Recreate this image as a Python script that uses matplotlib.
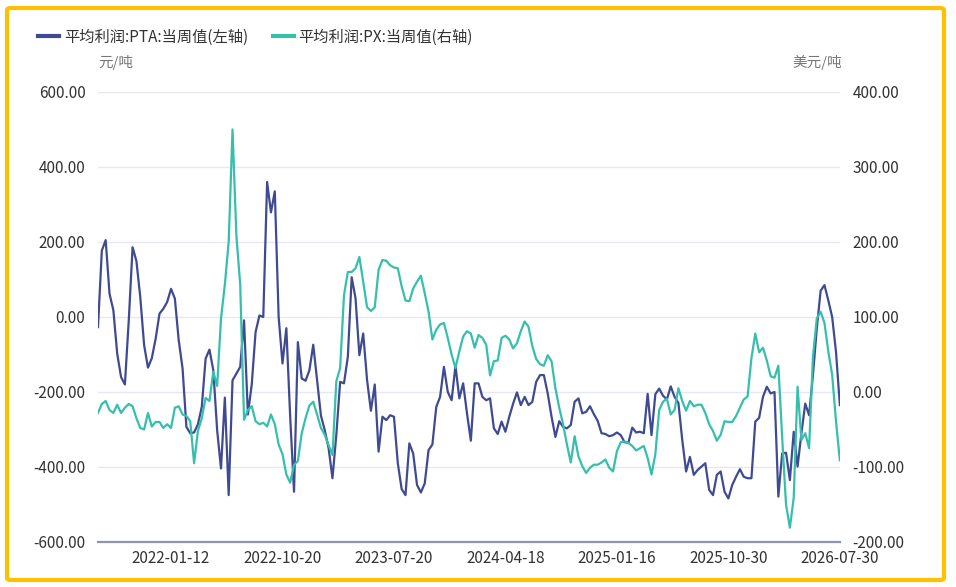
import matplotlib
matplotlib.use("Agg")
import matplotlib.pyplot as plt
from matplotlib.patches import FancyBboxPatch
from matplotlib.ticker import FormatStrFormatter, FixedLocator

plt.rcParams["font.family"] = ["Noto Sans CJK SC", "DejaVu Sans"]

# weekly values
pta_profit = [
    -27, 177, 205, 62, 18, -98, -160, -180, -10, 186,
    149, 53, -75, -135, -110, -58, 9, 22, 40, 75,
    49, -62, -137, -293, -310, -308, -286, -240, -111, -87,
    -142, -302, -404, -215, -475, -169, -151, -133, -9, -260,
    -180, -40, 4, 0, 360, 279, 335, 0, -124, -30,
    -266, -466, -67, -164, -170, -142, -74, -168, -263, -302,
    -350, -430, -315, -173, -177, -106, 106, 50, -102, -44,
    -168, -250, -180, -359, -266, -275, -262, -266, -390, -459,
    -475, -337, -364, -448, -468, -444, -355, -340, -240, -213,
    -133, -200, -222, -130, -217, -177, -257, -330, -177, -177,
    -213, -222, -217, -297, -312, -279, -306, -266, -231, -201,
    -235, -213, -235, -226, -173, -155, -155, -204, -266, -320,
    -278, -293, -297, -288, -226, -217, -257, -253, -238, -259,
    -277, -310, -312, -318, -315, -308, -315, -334, -335, -295,
    -308, -306, -310, -205, -315, -206, -191, -210, -220, -185,
    -213, -229, -328, -412, -373, -421, -408, -399, -390, -461,
    -475, -421, -412, -466, -484, -448, -426, -406, -426, -430,
    -430, -279, -269, -213, -186, -204, -200, -479, -364, -362,
    -435, -306, -399, -310, -231, -262, -155, -31, 70, 85,
    44, 0, -93, -235,
]

px_profit = [
    -28, -16, -12, -24, -28, -17, -28, -21, -16, -19,
    -35, -48, -50, -28, -46, -40, -40, -48, -43, -48,
    -21, -19, -30, -32, -39, -95, -52, -35, -8, -12,
    27, 8, 98, 143, 200, 350, 209, 143, -37, -24,
    -19, -39, -43, -41, -46, -30, -43, -70, -83, -110,
    -121, -97, -92, -55, -35, -18, -13, -30, -48, -57,
    -71, -84, 14, 32, 129, 160, 160, 165, 180, 147,
    113, 108, 113, 163, 176, 175, 169, 166, 165, 141,
    122, 121, 138, 147, 155, 132, 107, 70, 83, 90,
    92, 72, 50, 32, 54, 74, 81, 78, 59, 76,
    72, 63, 22, 41, 42, 72, 75, 70, 58, 65,
    81, 94, 87, 61, 44, 37, 35, 49, 41, 5,
    -21, -43, -70, -94, -59, -86, -99, -108, -101, -97,
    -97, -94, -90, -101, -106, -79, -67, -66, -68, -72,
    -78, -75, -72, -88, -110, -83, -24, -13, -9, -30,
    -24, 5, -12, -25, -12, -19, -17, -17, -28, -43,
    -52, -65, -57, -39, -40, -40, -32, -21, -10, -6,
    45, 78, 53, 59, 42, 21, 19, 35, -61, -150,
    -181, -141, 7, -64, -55, -75, 47, 98, 107, 92,
    54, 23, -39, -91,
]

tick_labels = ["2022-01-12", "2022-10-20", "2023-07-20", "2024-04-18",
               "2025-01-16", "2025-10-30", "2026-07-30"]
first_tick = 19
tick_step = 29

PTA_COLOR = "#3F4A93"
PX_COLOR = "#36BFAD"
GRID = "#E6E7F2"
TEXT = "#333333"

fig = plt.figure(figsize=(9.56, 5.87), dpi=100)
ax = fig.add_axes([0.1025, 0.0767, 0.776, 0.7666])
ax2 = ax.twinx()

x = list(range(len(pta_profit)))
l1, = ax.plot(x, pta_profit, color=PTA_COLOR, lw=1.6, label="平均利润:PTA:当周值(左轴)")
l2, = ax2.plot(x, px_profit, color=PX_COLOR, lw=1.6, label="平均利润:PX:当周值(右轴)")

ax.set_xlim(0, len(x) - 1)
ax.set_ylim(-600, 600)
ax2.set_ylim(-200, 400)
ax.yaxis.set_major_locator(FixedLocator(range(-600, 601, 200)))
ax2.yaxis.set_major_locator(FixedLocator(range(-200, 401, 100)))
ax.yaxis.set_major_formatter(FormatStrFormatter("%.2f"))
ax2.yaxis.set_major_formatter(FormatStrFormatter("%.2f"))

ticks = [first_tick + tick_step * k for k in range(len(tick_labels))]
ax.set_xticks(ticks)
ax.set_xticklabels(tick_labels)

ax.grid(axis="y", color=GRID, lw=1)
ax.set_axisbelow(True)
for a in (ax, ax2):
    for s in ("top", "left", "right"):
        a.spines[s].set_visible(False)
    a.spines["bottom"].set_visible(False)
ax.spines["bottom"].set_visible(True)
ax.spines["bottom"].set_color("#8E94AD")
ax.spines["bottom"].set_linewidth(1.6)

ax.tick_params(axis="x", length=0, pad=6, labelsize=11, labelcolor=TEXT)
ax.tick_params(axis="y", length=0, pad=9, labelsize=11, labelcolor=TEXT)
ax2.tick_params(axis="y", length=0, pad=9, labelsize=11, labelcolor=TEXT)

fig.text(98 / 956, 1 - 63 / 587, "元/吨", fontsize=10.5, color="#777777",
         ha="left", va="center")
fig.text(842 / 956, 1 - 62 / 587, "美元/吨", fontsize=10.5, color="#777777",
         ha="right", va="center")

fig.legend(handles=[l1, l2], loc="center left",
           bbox_to_anchor=(38 / 956, 1 - 37 / 587), ncol=2, frameon=False,
           fontsize=11, handlelength=1.4, handletextpad=0.3,
           columnspacing=1.6, borderpad=0, borderaxespad=0,
           labelcolor=TEXT)
for h in fig.legends[0].legend_handles:
    h.set_linewidth(3)

border = FancyBboxPatch((7 / 956, 7 / 587), 937 / 956, 572 / 587,
                        boxstyle="round,pad=0,rounding_size=0.004",
                        transform=fig.transFigure, fill=False,
                        edgecolor="#FFC000", lw=3)
fig.patches.append(border)

fig.savefig("out.png", dpi=100)
